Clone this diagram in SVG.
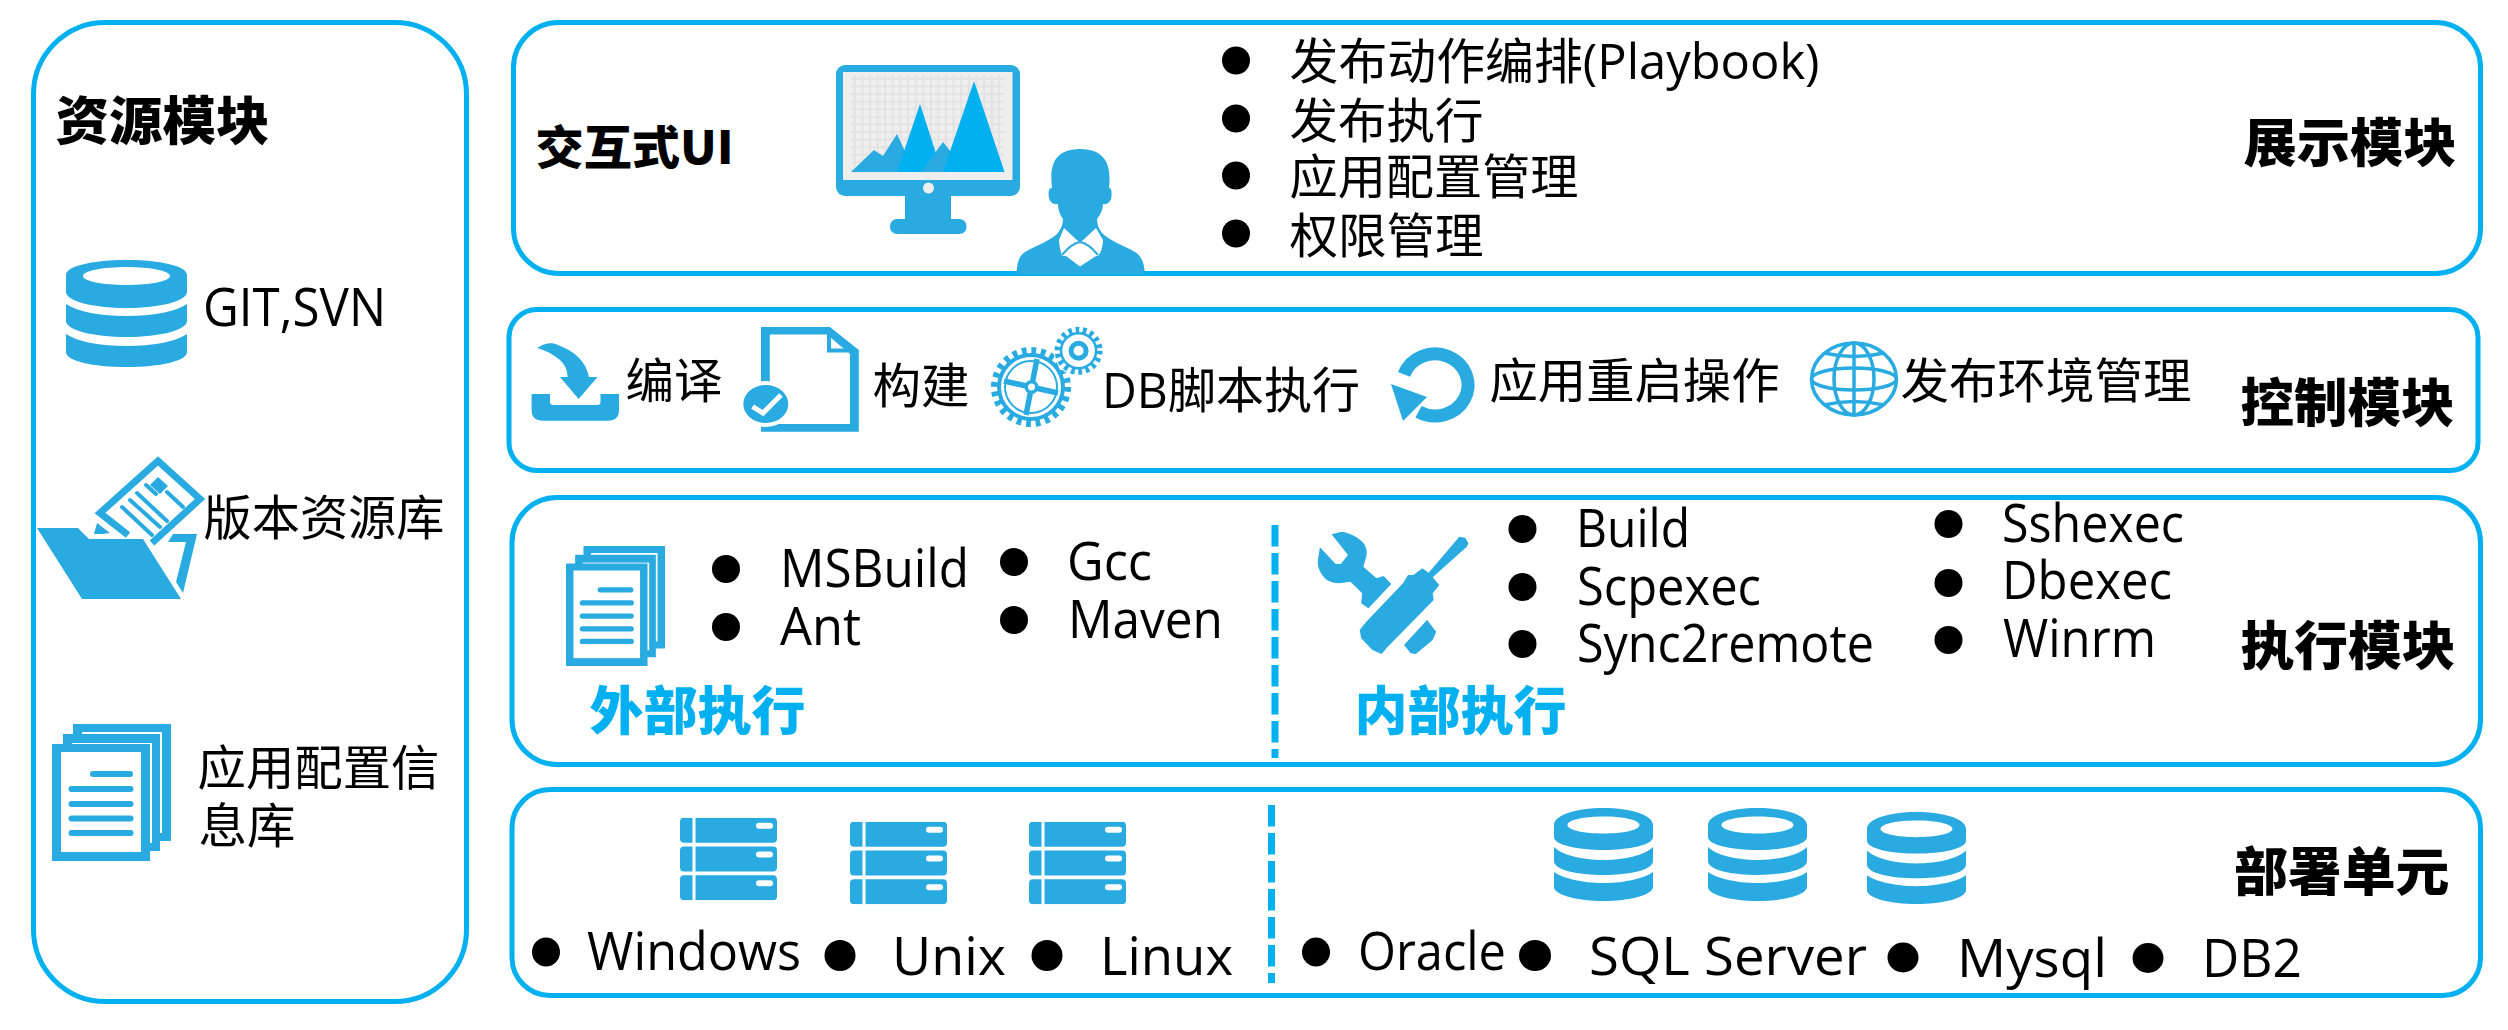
<svg xmlns="http://www.w3.org/2000/svg" width="2508" height="1030" viewBox="0 0 2508 1030">
<style>
.panel{fill:#fff;stroke:#00B0F0;stroke-width:5}
.ic{fill:#29ABE2}
.w{fill:#fff}
.ln{fill:none;stroke:#29ABE2}
.div{fill:none;stroke:#00B0F0;stroke-width:7;stroke-dasharray:21.5 6.5}
text{font-family:"Open Sans","Noto Sans CJK SC",sans-serif;font-size:53px;fill:#000}
.zh{font-family:"Noto Sans CJK SC",sans-serif;font-size:48px}
.mix{font-size:49px}
.h{font-family:"Noto Sans CJK SC",sans-serif;font-weight:900;font-size:52px}
.c{fill:#00B0F0}
</style>
<defs>
<symbol id="db" viewBox="0 0 121 107" preserveAspectRatio="none">
<path class="ic" fill-rule="evenodd" d="M0 15C0 6 27 0 60.5 0S121 6 121 15V32C121 41 94 48 60.5 48S0 41 0 32ZM17 16C17 21 36 25 60.5 25S104 21 104 16 85 7 60.5 7 17 11 17 16Z"/>
<path class="ic" d="M0 44C12 52 34 56 60.5 56S109 52 121 44V61C121 70 94 77 60.5 77S0 70 0 61Z"/>
<path class="ic" d="M0 74C12 82 34 86 60.5 86S109 82 121 74V92C121 101 94 107 60.5 107S0 101 0 92Z"/>
</symbol>
<symbol id="db2" viewBox="0 0 99 93" preserveAspectRatio="none">
<path class="ic" fill-rule="evenodd" d="M0 17C0 7 22 0 49.500 0S99 7 99 17V29C99 37 75 42 49.500 42S0 37 0 29ZM13.500 17C13.500 22 30 25.500 49.500 25.500S85.500 22 85.500 17 69 8.500 49.500 8.500 13.500 12 13.500 17Z"/>
<path class="ic" d="M0 39C8 47 28 52 49.500 52S91 47 99 39V53C99 62 75 67 49.500 67S0 62 0 53Z"/>
<path class="ic" d="M0 64C8 70 28 75 49.500 75S91 70 99 64V79C99 87 75 93 49.500 93S0 87 0 79Z"/>
</symbol>
<symbol id="docs" viewBox="0 0 119 137" preserveAspectRatio="none">
<rect class="ic" x="21" y="0" width="98" height="117"/><rect class="w" x="30" y="8" width="80" height="101"/>
<rect class="ic" x="11" y="10" width="97" height="117"/><rect class="w" x="20" y="19" width="80" height="100"/>
<rect class="ic" x="0" y="20" width="98" height="117"/><rect class="w" x="9" y="28" width="80" height="100"/>
<g class="ic">
<rect x="38" y="47" width="43" height="6" rx="3"/><rect x="16.500" y="62" width="65" height="6" rx="3"/>
<rect x="16.500" y="77" width="65" height="6" rx="3"/><rect x="16.500" y="91.500" width="65" height="6" rx="3"/>
<rect x="16.500" y="106" width="65" height="6" rx="3"/>
</g>
</symbol>
<symbol id="srv" viewBox="0 0 97 82.500" preserveAspectRatio="none">
<g class="ic"><rect width="97" height="25" rx="4"/><rect y="28.700" width="97" height="25" rx="4"/><rect y="57.500" width="97" height="25" rx="4"/></g>
<g class="w"><rect x="12.500" width="3" height="82.500"/><rect x="76" y="5" width="17" height="6" rx="3"/><rect x="76" y="33.700" width="17" height="6" rx="3"/><rect x="76" y="62.500" width="17" height="6" rx="3"/></g>
</symbol>
<pattern id="grid" width="7.600" height="7.600" patternUnits="userSpaceOnUse" x="851" y="75">
<path d="M3.800 0V7.600M0 3.800H7.600" stroke="#E2E2E2" stroke-width="2" fill="none"/>
</pattern>
<clipPath id="topClip"><rect x="500" y="0" width="2000" height="274.500"/></clipPath>
</defs>
<rect width="2508" height="1030" fill="#fff"/>

<g id="resource-module">
<rect class="panel" x="33.500" y="22.500" width="433" height="979" rx="72"/>
<text class="h" x="55.500" y="139.500" textLength="214" lengthAdjust="spacingAndGlyphs">资源模块</text>
<use href="#db" x="66" y="260" width="121" height="107"/>
<text x="203" y="326" textLength="183" lengthAdjust="spacingAndGlyphs">GIT,SVN</text>
<g id="folder-icon">
<path class="ln" stroke-width="7" d="M128 535 100 513 158 461 200 499 152 543"/>
<path class="ln" stroke-width="4" stroke-linecap="round" d="M122 507 152 535M130 500 160 527M137 493 167 521M146 485 156 494M167 492 183 507"/>
<path class="ic" d="M158 477 168 486 160 494 150 485Z"/>
<path class="ic" d="M37 528H78L89 539H143L181 599H82Z"/>
<path class="ic" d="M173 534H197L183 593 176 582 186 542H168Z"/>
<path class="ic" d="M94 534 97 523 110 533 103 534Z"/>
</g>
<text class="zh" x="203.500" y="535" textLength="241" lengthAdjust="spacingAndGlyphs">版本资源库</text>
<use href="#docs" x="52" y="724" width="119" height="137"/>
<text class="zh" x="197.500" y="785" textLength="242" lengthAdjust="spacingAndGlyphs">应用配置信</text>
<text class="zh" x="198.500" y="843" textLength="97" lengthAdjust="spacingAndGlyphs">息库</text>
</g>

<g id="ui-module">
<rect class="panel" x="513.500" y="22.500" width="1967" height="251" rx="45"/>
<text class="h" x="535.500" y="164" style="font-size:46px" textLength="198" lengthAdjust="spacingAndGlyphs">交互式UI</text>
<g id="monitor-icon">
<rect class="ic" x="836" y="65" width="184" height="131" rx="9"/>
<rect x="843" y="72" width="169.500" height="108" fill="#EEE"/>
<rect x="851" y="75" width="153" height="98" fill="url(#grid)"/>
<path class="ic" d="M851 172 874 150 883 156 897 134 909 160 897 172Z"/>
<path fill="#00B0F0" d="M897 172 920 104 942 172Z"/>
<path fill="#29ABE2" d="M921 172 943 142 951 152 945 172Z"/>
<path fill="#00B0F0" d="M943 172 974 81 1004.500 172Z"/>
<ellipse cx="928.500" cy="188" rx="5.500" ry="5.500" fill="#EEE"/>
<rect class="ic" x="905" y="196" width="46" height="24"/>
<rect class="ic" x="890" y="219" width="76.500" height="15" rx="7"/>
</g>
<g id="user-icon" clip-path="url(#topClip)">
<path class="ic" d="M1016.500 275C1017 262 1019 256 1025 252 1035 246 1052 240 1058 233 1061 228 1063 225 1063 219 1059 214 1058 208 1058 204 1051 205 1048.600 200 1048.600 194 1048.600 189 1050 188 1052 188 1050 170 1051 149 1080 149 1109 149 1111 170 1109 188 1111 188 1111.600 190 1111.600 195 1111.600 201 1108 205 1103 204 1103 209 1101 214 1097 219 1097 225 1099 229 1102 233 1108 240 1125 246 1135 252 1141 256 1144.500 262 1145 275Z"/>
<path class="w" d="M1064 228 1080 243 1096 228 1103 240C1103 248 1100 254 1098 256H1096L1080 266.500 1066 256H1062C1060 250 1059 244 1059 240Z"/>
<path class="ln" stroke-width="2" d="M1062 255C1068 248 1073 243 1080 242 1087 243 1092 248 1098 255"/>
</g>
<g>
<ellipse cx="1236" cy="60.500" rx="14" ry="14"/><ellipse cx="1236" cy="118.500" rx="14" ry="14"/><ellipse cx="1236" cy="175.500" rx="14" ry="14"/><ellipse cx="1236" cy="233.500" rx="14" ry="14"/>
</g>
<text class="mix" x="1289.500" y="79" textLength="530" lengthAdjust="spacingAndGlyphs">发布动作编排(Playbook)</text>
<text class="zh" x="1289.500" y="138" textLength="194" lengthAdjust="spacingAndGlyphs">发布执行</text>
<text class="zh" x="1289.500" y="194" textLength="289" lengthAdjust="spacingAndGlyphs">应用配置管理</text>
<text class="zh" x="1289.500" y="253" textLength="194" lengthAdjust="spacingAndGlyphs">权限管理</text>
<text class="h" x="2243.500" y="162" textLength="213" lengthAdjust="spacingAndGlyphs">展示模块</text>
</g>

<g id="control-module">
<rect class="panel" x="509" y="309.500" width="1969" height="161" rx="28"/>
<g id="compile-icon">
<path class="ic" d="M531.600 394H550V402Q550 405 553 405H597.500Q600.500 405 600.500 402V394H619V410Q619 420.700 608 420.700H543Q531.600 420.700 531.600 410Z"/>
<path class="ic" d="M537.300 348C544 343 552 342 558 345 574 351 586 361 589 377H597.600L578.600 399 560 377H567.700C567 370 566 366 560 360 553 354 545 350 537.300 348Z"/>
</g>
<text class="zh" x="625.500" y="398" textLength="97" lengthAdjust="spacingAndGlyphs">编译</text>
<g id="build-icon">
<path class="ic" fill-rule="evenodd" d="M761 327H830L858.800 350V431.700H761ZM769.800 334.500V424H850V354L827 334.500Z"/>
<path class="ln" stroke-width="4" d="M829 334V350.500H848"/>
<ellipse cx="765.800" cy="404" rx="26" ry="23" fill="#fff"/>
<ellipse class="ic" cx="765.800" cy="404" rx="22.500" ry="19"/>
<path d="M752.600 406.700 763 413 781 395" fill="none" stroke="#fff" stroke-width="5"/>
</g>
<text class="zh" x="872.500" y="403" textLength="97" lengthAdjust="spacingAndGlyphs">构建</text>
<g id="script-icon">
<circle class="ln" cx="1031" cy="387" r="36.500" stroke-width="7" stroke-dasharray="4.800 4.760"/>
<circle class="ln" cx="1031" cy="387" r="32" stroke-width="4"/>
<circle class="ln" cx="1031" cy="387" r="26" stroke-width="2"/>
<path class="ln" stroke-width="5.500" d="M1037 359 1026 415M1004 381 1058 393"/>
<circle cx="1031.500" cy="387" r="7" class="ic"/><circle cx="1031.500" cy="387" r="3.500" class="w"/>
<circle cx="1078.600" cy="350.700" r="25" class="w"/>
<circle class="ln" cx="1078.600" cy="350.700" r="21" stroke-width="6" stroke-dasharray="3.700 3.630"/>
<circle class="ln" cx="1078.600" cy="350.700" r="17.500" stroke-width="2.500"/>
<circle class="ln" cx="1078.600" cy="350.700" r="7.500" stroke-width="5"/>
</g>
<text class="mix" x="1102" y="408" textLength="258" lengthAdjust="spacingAndGlyphs">DB脚本执行</text>
<g id="restart-icon">
<path class="ln" stroke-width="13" d="M1404 374.400A33 31 0 1 1 1418.500 411.800"/>
<path class="ic" d="M1391 384 1427 397 1403 421Z"/>
</g>
<text class="zh" x="1489.500" y="398" textLength="290" lengthAdjust="spacingAndGlyphs">应用重启操作</text>
<g id="environment-icon" class="ln" stroke-width="3.500">
<ellipse cx="1854" cy="379" rx="42.500" ry="36"/>
<ellipse cx="1854" cy="379" rx="20" ry="36"/>
<path d="M1854 343V415"/>
<ellipse cx="1854" cy="379" rx="42.500" ry="11"/>
<path d="M1824 353Q1854 360 1884 353M1824 405Q1854 398 1884 405"/>
</g>
<text class="zh" x="1900.500" y="398" textLength="291" lengthAdjust="spacingAndGlyphs">发布环境管理</text>
<text class="h" x="2240.500" y="422" textLength="214" lengthAdjust="spacingAndGlyphs">控制模块</text>
</g>

<g id="execution-module">
<rect class="panel" x="512" y="497.500" width="1968.500" height="267" rx="45"/>
<use href="#docs" x="566" y="546" width="99" height="120"/>
<ellipse cx="726" cy="569" rx="14" ry="14"/><ellipse cx="726" cy="627" rx="14" ry="14"/>
<ellipse cx="1014" cy="562" rx="14" ry="14"/><ellipse cx="1014" cy="620" rx="14" ry="14"/>
<text x="780" y="587" textLength="189" lengthAdjust="spacingAndGlyphs">MSBuild</text>
<text x="780" y="645" textLength="81" lengthAdjust="spacingAndGlyphs">Ant</text>
<text x="1067" y="580" textLength="85" lengthAdjust="spacingAndGlyphs">Gcc</text>
<text x="1068" y="637.500" textLength="155" lengthAdjust="spacingAndGlyphs">Maven</text>
<text class="h c" x="589.500" y="730" textLength="216" lengthAdjust="spacingAndGlyphs">外部执行</text>
<g id="tools-icon" class="ic">
<path d="M1331.600 534.300 1341.800 531.700C1352 533 1362 540 1364.800 545 1367 550 1367 553 1366.300 556.700L1363.300 566.700 1376.500 578.300 1383.700 576 1391.300 584 1368.400 608.300 1361.200 603.300 1362.200 593.300 1350.500 581.700 1339.300 583.300C1332 583 1327 581 1324 577.300 1319 571 1317 565 1317.900 560L1319.900 547.300 1335.700 564H1340.800L1348 555Z"/>
<path d="M1413.300 575 1422.400 568.300 1428.600 572.700 1456.600 540 1459.200 536.700 1465.300 537.700 1468.400 543.300 1466.800 546.700 1432.700 577.300 1439.300 585 1432.700 593.300 1433.700 600 1387.800 646.700 1381.600 654 1372.400 650 1361.200 638.300 1359.700 630 1366.300 621.700 1403 583.300 1408 575Z"/>
<path d="M1427 620 1436.200 631.700 1432.700 640 1415.800 654 1410.700 653.300 1404 645Z"/>
</g>
<ellipse cx="1522.500" cy="529" rx="14" ry="14"/><ellipse cx="1522.500" cy="587" rx="14" ry="14"/><ellipse cx="1522.500" cy="644" rx="14" ry="14"/>
<ellipse cx="1948.500" cy="524" rx="14" ry="14"/><ellipse cx="1948.500" cy="583" rx="14" ry="14"/><ellipse cx="1948.500" cy="640" rx="14" ry="14"/>
<text x="1576" y="547" textLength="114" lengthAdjust="spacingAndGlyphs">Build</text>
<text x="1577" y="605" textLength="184" lengthAdjust="spacingAndGlyphs">Scpexec</text>
<text x="1577" y="662" textLength="297" lengthAdjust="spacingAndGlyphs">Sync2remote</text>
<text x="2002" y="541.500" textLength="182" lengthAdjust="spacingAndGlyphs">Sshexec</text>
<text x="2002" y="599" textLength="170" lengthAdjust="spacingAndGlyphs">Dbexec</text>
<text x="2003" y="656.500" textLength="153" lengthAdjust="spacingAndGlyphs">Winrm</text>
<text class="h c" x="1354.500" y="730" textLength="212" lengthAdjust="spacingAndGlyphs">内部执行</text>
<text class="h" x="2240.500" y="665" textLength="215" lengthAdjust="spacingAndGlyphs">执行模块</text>
</g>

<g id="deploy-module">
<rect class="panel" x="512" y="789.500" width="1968.500" height="206" rx="38"/>
<use href="#srv" x="680" y="817.700" width="97" height="82.500"/>
<use href="#srv" x="850" y="821.700" width="97" height="82.500"/>
<use href="#srv" x="1029" y="821.700" width="97" height="82.500"/>
<use href="#db2" x="1554" y="808" width="99" height="93"/>
<use href="#db2" x="1708" y="808" width="99" height="93"/>
<use href="#db2" x="1867" y="812" width="99" height="92"/>
<ellipse cx="546" cy="952" rx="14" ry="14.500"/><ellipse cx="840" cy="955.500" rx="15.500" ry="15.500"/><ellipse cx="1047" cy="955.500" rx="15.500" ry="15.500"/>
<ellipse cx="1316" cy="952" rx="14" ry="14.500"/><ellipse cx="1535" cy="955.500" rx="16" ry="15.500"/><ellipse cx="1903" cy="957.500" rx="15.500" ry="15"/><ellipse cx="2148" cy="958" rx="15.500" ry="15"/>
<text x="587" y="970" textLength="214" lengthAdjust="spacingAndGlyphs">Windows</text>
<text x="892" y="975" textLength="114" lengthAdjust="spacingAndGlyphs">Unix</text>
<text x="1100" y="975" textLength="133" lengthAdjust="spacingAndGlyphs">Linux</text>
<text x="1358" y="970" textLength="148" lengthAdjust="spacingAndGlyphs">Oracle</text>
<text x="1589" y="975" textLength="278" lengthAdjust="spacingAndGlyphs">SQL Server</text>
<text x="1957" y="977" textLength="150" lengthAdjust="spacingAndGlyphs">Mysql</text>
<text x="2202" y="977" textLength="100" lengthAdjust="spacingAndGlyphs">DB2</text>
<text class="h" x="2234" y="891" textLength="215.500" lengthAdjust="spacingAndGlyphs">部署单元</text>
</g>

<g id="connectors">
<path class="div" d="M1275 525V758"/>
<path class="div" d="M1271.500 805V983"/>
</g>
</svg>
